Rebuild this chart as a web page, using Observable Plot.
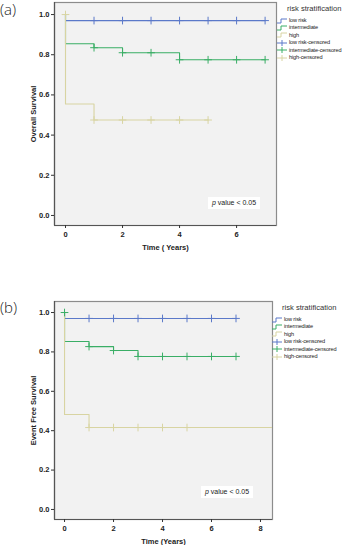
<!DOCTYPE html>
<html><head><meta charset="utf-8">
<script src="https://cdn.jsdelivr.net/npm/d3@7"></script>
<script src="https://cdn.jsdelivr.net/npm/@observablehq/plot@0.6"></script>
<style>
body{margin:0;background:#fff;font-family:"Liberation Sans",Arial,sans-serif;}
#wrap{position:relative;width:347px;height:545px;overflow:hidden;}
.panel{position:absolute;left:0;}
.tag{position:absolute;left:0;font-size:15px;line-height:15px;color:#222;font-family:"Open Sans","Liberation Sans",sans-serif;font-weight:300;}
.lg{position:absolute;font-size:5.6px;color:#222;line-height:7.4px;letter-spacing:-0.15px;}
.lg .t{font-size:7.6px;line-height:9px;color:#333;margin-bottom:4px;margin-left:10px;white-space:nowrap;letter-spacing:0;font-weight:normal;}
.lg .r{display:flex;align-items:center;height:7.4px;white-space:nowrap;}
.lg svg{margin-right:1px;flex:none;}
.pv{position:absolute;background:#fff;font-size:7px;color:#222;text-align:center;line-height:12px;}
</style></head>
<body><div id="wrap"></div>
<script>
// ---- data ----
const groups = ["low risk", "intermediate", "high"];
const colors = ["#5b79c9", "#3aae66", "#d8d4a2"];
const yTicks = [0, 0.2, 0.4, 0.6, 0.8, 1.0];
const xTicksA = [0, 2, 4, 6];
const xTicksB = [0, 2, 4, 6, 8];

// Panel (a) Overall survival: step curves [time, survival]
const lowA  = [[0,1],[0,0.97],[7,0.97]];
const intA  = [[0,1],[0,0.855],[1,0.835],[2,0.81],[4,0.775],[7,0.775]];
const highA = [[0,1],[0,0.555],[1,0.475],[5,0.475]];
// censored marks [time, survival]
const lowCensA  = [[1,0.97],[2,0.97],[3,0.97],[4,0.97],[5,0.97],[6,0.97],[7,0.97]];
const intCensA  = [[1,0.835],[2,0.81],[3,0.81],[4,0.775],[5,0.775],[6,0.775],[7,0.775]];
const highCensA = [[0,1],[1,0.475],[2,0.475],[3,0.475],[4,0.475],[5,0.475]];

// Panel (b) Event free survival
const lowB  = [[0,1],[0,0.97],[7,0.97]];
const intB  = [[0,1],[0,0.853],[1,0.827],[2,0.807],[3,0.777],[7,0.777]];
const highB = [[0,1],[0,0.482],[1,0.416],[8.6,0.416]];
const lowCensB  = [[1,0.97],[2,0.97],[3,0.97],[4,0.97],[5,0.97],[6,0.97],[7,0.97]];
const intCensB  = [[0,1],[1,0.827],[2,0.807],[3,0.777],[4,0.777],[5,0.777],[6,0.777],[7,0.777]];
const highCensB = [[1,0.416],[2,0.416],[3,0.416],[4,0.416],[5,0.416]];

const legendLabels = ["low risk","intermediate","high","low risk-censored","intermediate-censored","high-censored"];

function rows(curves) {
  return curves.flatMap((c, i) => c.map(([t, s]) => ({t, s, g: groups[i]})));
}

function km(o) {
  const lines = rows(o.curves), cens = rows(o.cens);
  return Plot.plot({
    width: 347, height: o.height,
    marginLeft: 54, marginRight: o.mr, marginTop: o.mt, marginBottom: o.mb,
    style: {fontFamily: '"Liberation Sans", Arial, sans-serif', background: "transparent", color: "#333"},
    x: {domain: o.xd},
    y: {domain: o.yd},
    color: {domain: groups, range: colors},
    marks: [
      Plot.frame({fill: "#f2f2f2", stroke: "#8c8c8c", strokeWidth: 1.2}),
      Plot.ruleX([o.xd[0]], {stroke: "#555", strokeWidth: 1.2}),
      Plot.ruleY([o.yd[0]], {stroke: "#555", strokeWidth: 1.2}),
      Plot.axisY({ticks: yTicks, tickFormat: d3.format(".1f"), tickSize: 3, tickPadding: 2, fontSize: 6.5,
        label: o.ylabel, labelAnchor: "center", labelArrow: "none", labelOffset: 24}),
      Plot.axisX({ticks: o.xt, tickFormat: d3.format("d"), tickSize: 3, tickPadding: 3, fontSize: 6.5,
        label: o.xlabel, labelAnchor: "center", labelArrow: "none", labelOffset: 24}),
      Plot.line(lines, {x: "t", y: "s", z: "g", stroke: "g", curve: "step-after", strokeWidth: 1.1, clip: true}),
      Plot.dot(cens, {x: "t", y: "s", stroke: "g", symbol: "plus", r: 2.6, strokeWidth: 1})
    ]
  });
}

function legendSym(i) {
  const c = colors[i % 3];
  if (i < 3) return `<svg width="11" height="6"><path d="M0,5H4V1H10" fill="none" stroke="${c}" stroke-width="1"/></svg>`;
  return `<svg width="11" height="6"><path d="M0,3H10M5,0V6" fill="none" stroke="${c}" stroke-width="1"/></svg>`;
}

function legend(left, top) {
  const d = document.createElement("div");
  d.className = "lg"; d.style.left = left + "px"; d.style.top = top + "px";
  d.innerHTML = `<div class="t">risk stratification</div>` +
    legendLabels.map((l, i) => `<div class="r">${legendSym(i)}<span>${l}</span></div>`).join("");
  return d;
}

const wrap = document.getElementById("wrap");

const a = km({curves: [lowA, intA, highA], cens: [lowCensA, intCensA, highCensA],
  height: 262, mr: 71, mt: 2, mb: 37, xd: [-0.386, 7.4], yd: [-0.05, 1.06], xt: xTicksA,
  ylabel: "Overall Survival", xlabel: "Time ( Years)"});
const pa = document.createElement("div"); pa.className = "panel"; pa.style.top = "0px"; pa.appendChild(a);
wrap.appendChild(pa);

const b = km({curves: [lowB, intB, highB], cens: [lowCensB, intCensB, highCensB],
  height: 265, mr: 75, mt: 21, mb: 26, xd: [-0.41, 8.49], yd: [-0.051, 1.056], xt: xTicksB,
  ylabel: "Event Free Survival", xlabel: "Time (Years)"});
const pb = document.createElement("div"); pb.className = "panel"; pb.style.top = "280px"; pb.appendChild(b);
wrap.appendChild(pb);

// bold axis titles
document.querySelectorAll("svg [aria-label$='label'] text, svg [aria-label$='label']").forEach(e => {
  e.style.fontWeight = "bold"; e.style.fontSize = "7.5px"; e.style.fill = "#222";
});

wrap.appendChild(legend(277, 4));
wrap.appendChild(legend(272, 303));

const tA = document.createElement("div"); tA.className = "tag"; tA.style.top = "2px"; tA.textContent = "(a)"; wrap.appendChild(tA);
const tB = document.createElement("div"); tB.className = "tag"; tB.style.top = "300px"; tB.textContent = "(b)"; wrap.appendChild(tB);

function pval(left, top) {
  const d = document.createElement("div"); d.className = "pv";
  d.style.left = left + "px"; d.style.top = top + "px"; d.style.width = "52px"; d.style.height = "12px";
  d.innerHTML = "<i>p</i> value &lt; 0.05";
  wrap.appendChild(d);
}
pval(208, 197);
pval(201, 486);
</script></body></html>
